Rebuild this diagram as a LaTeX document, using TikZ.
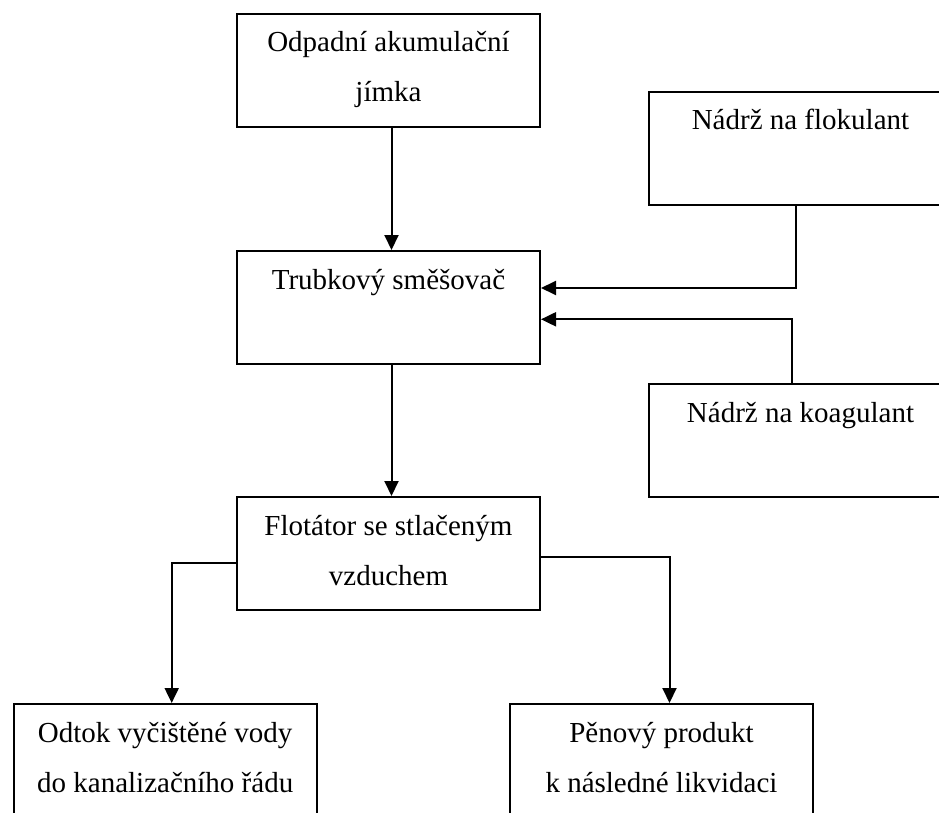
\documentclass[tikz,border=0pt]{standalone}
\usepackage{fontspec}
\setmainfont{Liberation Serif}
\usetikzlibrary{arrows.meta}
\newcommand{\boxtext}[1]{\parbox[t][113pt][t]{303pt}{\centering\fontsize{29}{50}\selectfont\rule{0pt}{38pt}#1}}
\begin{document}
\begin{tikzpicture}[x=1pt,y=-1pt,
  blk/.style={draw, line width=2pt, inner sep=0pt, anchor=north west},
  flow/.style={line width=2pt, -{Triangle[length=15pt,width=14pt]}}]
\clip (0,0) rectangle (939,813);
\fill[white] (0,0) rectangle (939,813);
\node[blk] (a) at (236,13) {\boxtext{Odpadní akumulační\\jímka}};
\node[blk] (b) at (236,250) {\boxtext{Trubkový směšovač}};
\node[blk] (f) at (648,91) {\boxtext{Nádrž na flokulant}};
\node[blk] (k) at (648,383) {\boxtext{Nádrž na koagulant}};
\node[blk] (c) at (236,496) {\boxtext{Flotátor se stlačeným\\vzduchem}};
\node[blk] (d) at (12.7,703) {\boxtext{Odtok vyčištěné vody\\do kanalizačního řádu}};
\node[blk] (e) at (509,703) {\boxtext{Pěnový produkt\\k následné likvidaci}};
\draw[flow] ([xshift=3pt]a.south) -- ([xshift=3pt]b.north);
\draw[flow] ([xshift=3pt]b.south) -- ([xshift=3pt]c.north);
\draw[flow] ([xshift=-4.5pt]f.south) |- ([yshift=19.5pt]b.east);
\draw[flow] ([xshift=-8.5pt]k.north) |- ([yshift=-11.8pt]b.east);
\draw[flow] ([yshift=-9.5pt]c.west) -| ([xshift=6.5pt]d.north);
\draw[flow] ([yshift=-3.5pt]c.east) -| ([xshift=8pt]e.north);
\end{tikzpicture}
\end{document}
